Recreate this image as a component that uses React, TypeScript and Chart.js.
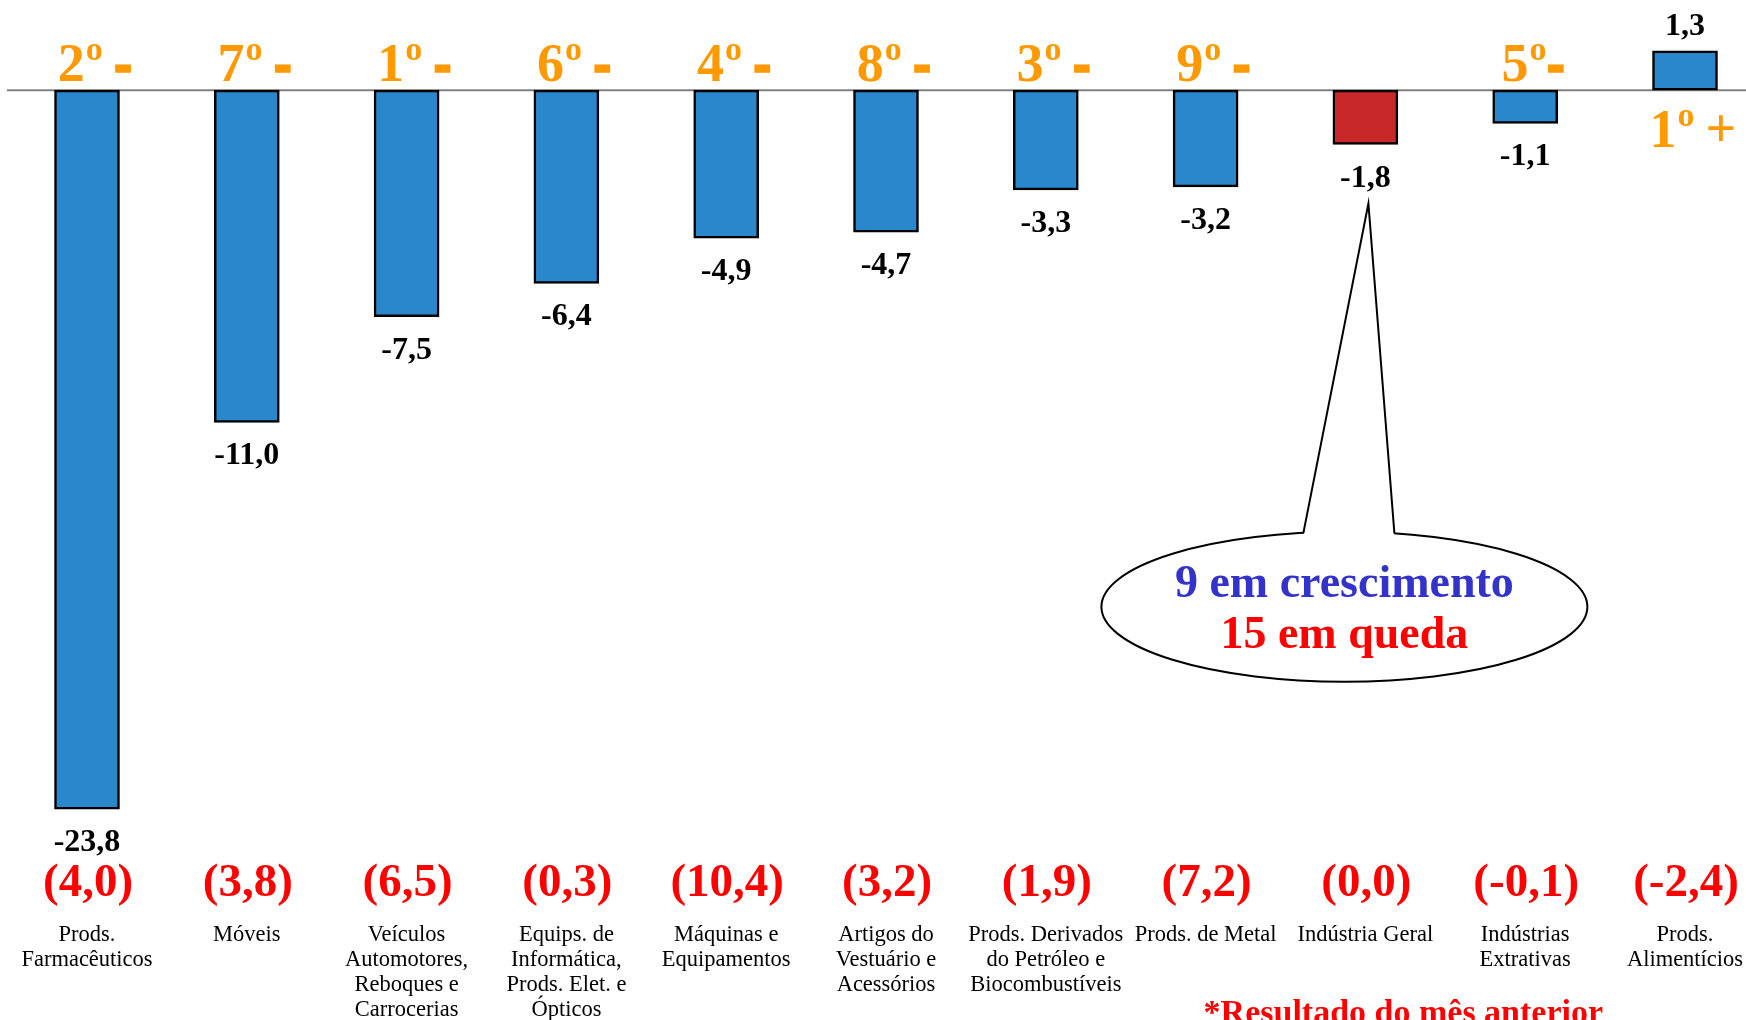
import React, { useEffect, useRef } from 'react';
import { Chart, registerables } from 'chart.js';

Chart.register(...registerables);

// ---------- data ----------
const categories: string[][] = [
  ['Prods.', 'Farmacêuticos'],
  ['Móveis'],
  ['Veículos', 'Automotores,', 'Reboques e', 'Carrocerias'],
  ['Equips. de', 'Informática,', 'Prods. Elet. e', 'Ópticos'],
  ['Máquinas e', 'Equipamentos'],
  ['Artigos do', 'Vestuário e', 'Acessórios'],
  ['Prods. Derivados', 'do Petróleo e', 'Biocombustíveis'],
  ['Prods. de Metal'],
  ['Indústria Geral'],
  ['Indústrias', 'Extrativas'],
  ['Prods.', 'Alimentícios'],
];
const values: number[] = [-23.8, -11.0, -7.5, -6.4, -4.9, -4.7, -3.3, -3.2, -1.8, -1.1, 1.3];
const previousValues: number[] = [4.0, 3.8, 6.5, 0.3, 10.4, 3.2, 1.9, 7.2, 0.0, -0.1, -2.4];
const ranks: string[] = ['2º -', '7º -', '1º -', '6º -', '4º -', '8º -', '3º -', '9º -', '', '5º-', '1º +'];
const highlightCategory = 'Indústria Geral';
const calloutLines: string[] = ['9 em crescimento', '15 em queda'];
const footnote = '*Resultado do mês anterior';

// ---------- styles ----------
const BLUE = '#2B87CB';
const RED_BAR = '#C8282A';
const ORANGE = '#FF9900';
const RED = '#FF0000';
const CALLOUT_BLUE = '#3333CC';
const SERIF = '"Liberation Serif", "Times New Roman", serif';
const SANS = '"Liberation Sans", Arial, sans-serif';

const fmt = (v: number) => v.toFixed(1).replace('.', ',');

function drawRank(ctx: CanvasRenderingContext2D, label: string, cx: number, baseline: number) {
  if (!label) return;
  const digit = label.charAt(0);
  const sign = label.charAt(label.length - 1);
  const spaced = label.includes(' ');
  const digitFont = `bold 54px ${SERIF}`;
  const supFont = `bold 34px ${SERIF}`;
  const signFont = sign === '-' ? `bold 56px ${SANS}` : digitFont;
  ctx.font = digitFont;
  const wd = ctx.measureText(digit).width;
  ctx.font = supFont;
  const wo = ctx.measureText('o').width;
  ctx.font = signFont;
  const ws = ctx.measureText(sign).width;
  const gap = spaced ? 11 : 0;
  const total = wd + 1 + wo + gap + ws;
  let x = cx - total / 2;
  ctx.fillStyle = ORANGE;
  ctx.strokeStyle = ORANGE;
  ctx.textAlign = 'left';
  ctx.textBaseline = 'alphabetic';
  ctx.font = digitFont;
  ctx.fillText(digit, x, baseline);
  x += wd + 1;
  ctx.font = supFont;
  ctx.fillText('o', x, baseline - 21);
  x += wo + gap;
  ctx.font = signFont;
  if (sign === '-') {
    ctx.lineWidth = 1.5;
    ctx.fillText('-', x, baseline + 2);
    ctx.strokeText('-', x, baseline + 2);
  } else {
    ctx.fillText(sign, x, baseline - 1);
  }
}

const annotations = {
  id: 'annotations',
  beforeDatasetsDraw(chart: any) {
    const { ctx, scales } = chart;
    const y0 = scales.y.getPixelForValue(0);
    ctx.save();
    ctx.strokeStyle = '#808080';
    ctx.lineWidth = 2;
    ctx.beginPath();
    ctx.moveTo(7, y0);
    ctx.lineTo(chart.width, y0);
    ctx.stroke();
    ctx.restore();
  },
  afterDatasetsDraw(chart: any) {
    const { ctx, chartArea, scales } = chart;
    const meta = chart.getDatasetMeta(0);
    const y0 = scales.y.getPixelForValue(0);
    ctx.save();

    // value labels
    ctx.font = `bold 32px ${SERIF}`;
    ctx.fillStyle = '#000';
    ctx.textAlign = 'center';
    ctx.textBaseline = 'alphabetic';
    meta.data.forEach((bar: any, i: number) => {
      const v = values[i];
      const yy = v < 0 ? bar.y + 42 : bar.y - 16;
      ctx.fillText(fmt(v), bar.x, yy);
    });

    // previous-month values
    ctx.font = `bold 47px ${SERIF}`;
    ctx.fillStyle = RED;
    meta.data.forEach((bar: any, i: number) => {
      ctx.fillText(`(${fmt(previousValues[i])})`, bar.x + 1, chartArea.bottom - 26);
    });

    // ranks
    meta.data.forEach((bar: any, i: number) => {
      const base = values[i] < 0 ? y0 - 9 : y0 + 57;
      drawRank(ctx, ranks[i], bar.x + 8, base);
    });

    // callout
    const hi = categories.findIndex((c) => c.join(' ') === highlightCategory);
    const hb = meta.data[hi];
    const cx = hb.x - 21;
    const cy = scales.y.getPixelForValue(-17.1);
    const rx = 243;
    const ry = 75;
    const tipX = hb.x + 3;
    const tipY = hb.y + 59;
    const lx = cx - 41;
    const rxp = cx + 50;
    const ey = (x: number) => cy - ry * Math.sqrt(1 - ((x - cx) / rx) ** 2);
    ctx.lineWidth = 2;
    ctx.strokeStyle = '#000';
    ctx.fillStyle = '#fff';
    ctx.beginPath();
    ctx.ellipse(cx, cy, rx, ry, 0, 0, Math.PI * 2);
    ctx.fill();
    ctx.stroke();
    ctx.beginPath();
    ctx.moveTo(tipX, tipY);
    ctx.lineTo(lx, ey(lx) + 4);
    ctx.lineTo(rxp, ey(rxp) + 4);
    ctx.closePath();
    ctx.fill();
    ctx.beginPath();
    ctx.moveTo(lx, ey(lx));
    ctx.lineTo(tipX, tipY);
    ctx.lineTo(rxp, ey(rxp));
    ctx.stroke();

    ctx.font = `bold 46px ${SERIF}`;
    ctx.textAlign = 'center';
    ctx.fillStyle = CALLOUT_BLUE;
    ctx.fillText(calloutLines[0], cx, cy - 10);
    ctx.fillStyle = RED;
    ctx.fillText(calloutLines[1], cx, cy + 41);

    // footnote
    ctx.font = `bold 34px ${SERIF}`;
    ctx.fillStyle = RED;
    ctx.textAlign = 'left';
    ctx.fillText(footnote, scales.x.getPixelForValue(7) - 2, chart.height + 3);

    ctx.restore();
  },
};

export default function App() {
  const ref = useRef<HTMLCanvasElement | null>(null);

  useEffect(() => {
    if (!ref.current) return;
    const chart = new Chart(ref.current, {
      type: 'bar',
      data: {
        labels: categories,
        datasets: [
          {
            data: values,
            backgroundColor: categories.map((c) => (c.join(' ') === highlightCategory ? RED_BAR : BLUE)),
            borderColor: '#000',
            borderWidth: 2.5,
            borderSkipped: false,
            barThickness: 65,
            clip: false,
          } as any,
        ],
      },
      options: {
        responsive: false,
        animation: false,
        layout: { padding: { left: 87, right: 61, top: 14.6, bottom: -3 } },
        plugins: { legend: { display: false }, tooltip: { enabled: false } },
        scales: {
          x: {
            offset: false,
            grid: { display: false, drawTicks: false },
            border: { display: false },
            ticks: {
              autoSkip: false,
              maxRotation: 0,
              minRotation: 0,
              padding: 0,
              color: '#000',
              font: { family: SERIF, size: 22.5, lineHeight: 1.12 },
            },
          },
          y: { display: false, min: -27.54, max: 2.5 },
        },
      },
      plugins: [annotations],
    });
    return () => chart.destroy();
  }, []);

  return (
    <div style={{ position: 'absolute', left: 0, top: 0, width: 1746, height: 1020, background: '#fff' }}>
      <canvas ref={ref} width={1746} height={1020} style={{ display: 'block' }} />
    </div>
  );
}
